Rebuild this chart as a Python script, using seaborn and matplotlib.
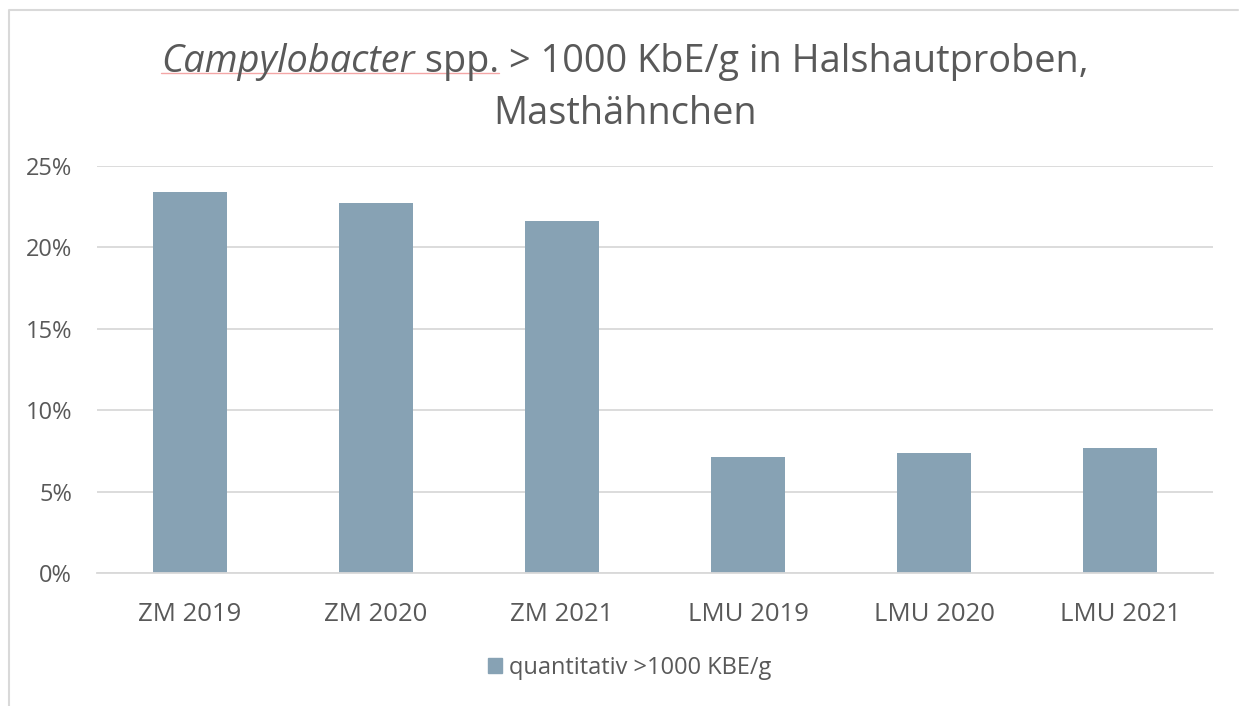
import matplotlib
matplotlib.use('Agg')
import matplotlib.pyplot as plt
import matplotlib.lines as mlines
import matplotlib.patches as mpatches
from matplotlib.ticker import FuncFormatter
import seaborn as sns
import pandas as pd

categories = ['ZM 2019', 'ZM 2020', 'ZM 2021', 'LMU 2019', 'LMU 2020', 'LMU 2021']
values = [23.4, 22.7, 21.6, 7.1, 7.4, 7.7]
series_label = 'quantitativ >1000 KBE/g'
y_ticks = [0, 5, 10, 15, 20, 25]

bar_color = '#87A2B4'
text_color = '#595959'
grid_color = '#D9D9D9'

sns.set_theme(style='white')
plt.rcParams['font.family'] = ['Open Sans', 'DejaVu Sans']
plt.rcParams['text.color'] = text_color

df = pd.DataFrame({'cat': categories, 'val': values})

fig = plt.figure(figsize=(12.39, 7.06), dpi=100)
ax = fig.add_axes([97 / 1239, 1 - 573 / 706, (1213 - 97) / 1239, (573 - 166) / 706])

sns.barplot(data=df, x='cat', y='val', color=bar_color, width=0.4, ax=ax,
            saturation=1, linewidth=0)

ax.set_ylim(0, 25)
ax.set_yticks(y_ticks)
ax.yaxis.set_major_formatter(FuncFormatter(lambda v, p: f'{int(v)}%'))
ax.grid(axis='y', color=grid_color, linewidth=1.3)
ax.set_axisbelow(True)
for s in ['top', 'right', 'left']:
    ax.spines[s].set_visible(False)
ax.spines['bottom'].set_color(grid_color)
ax.spines['bottom'].set_linewidth(1.3)
ax.set_xlabel('')
ax.set_ylabel('')
ax.tick_params(axis='both', length=0, labelcolor=text_color)
ax.tick_params(axis='x', pad=21, labelsize=18.5)
ax.tick_params(axis='y', pad=18, labelsize=17)

# legend
handle = mpatches.Patch(color=bar_color, label=series_label)
fig.legend(handles=[handle], loc='center', bbox_to_anchor=(630 / 1239, 1 - 668 / 706),
           frameon=False, fontsize=17, handlelength=0.6, handleheight=0.6,
           handletextpad=0.3, labelcolor=text_color)

# title with italic genus name (two lines, placed on baselines)
fig.canvas.draw()
r = fig.canvas.get_renderer()
fs = 27.3
y1 = 1 - 72 / 706
y2 = 1 - 124 / 706
t1 = fig.text(0, y1, 'Campylobacter', fontsize=fs, style='italic', va='baseline', ha='left')
t2 = fig.text(0, y1, ' spp. > 1000 KbE/g in Halshautproben,', fontsize=fs, va='baseline', ha='left')
w1 = t1.get_window_extent(r).width
w2 = t2.get_window_extent(r).width
x0 = 625 - (w1 + w2) / 2
t1.set_x(x0 / 1239)
t2.set_x((x0 + w1) / 1239)
fig.text(625 / 1239, y2, 'Masthähnchen', fontsize=fs, va='baseline', ha='center')
# underline beneath the species name
w_spp = fig.text(0, 0, ' spp.', fontsize=fs).get_window_extent(r).width
fig.texts[-1].remove()
fig.add_artist(mlines.Line2D([x0 / 1239, (x0 + w1 + w_spp) / 1239], [1 - 73 / 706] * 2,
                             color='#F4A6A6', linewidth=1))

# outer chart border
fig.add_artist(mlines.Line2D([9 / 1239, 9 / 1239, 1238 / 1239], [0, 1 - 10 / 706, 1 - 10 / 706],
                             color='#D9D9D9', linewidth=1.5))

fig.savefig('out.png', dpi=100)
